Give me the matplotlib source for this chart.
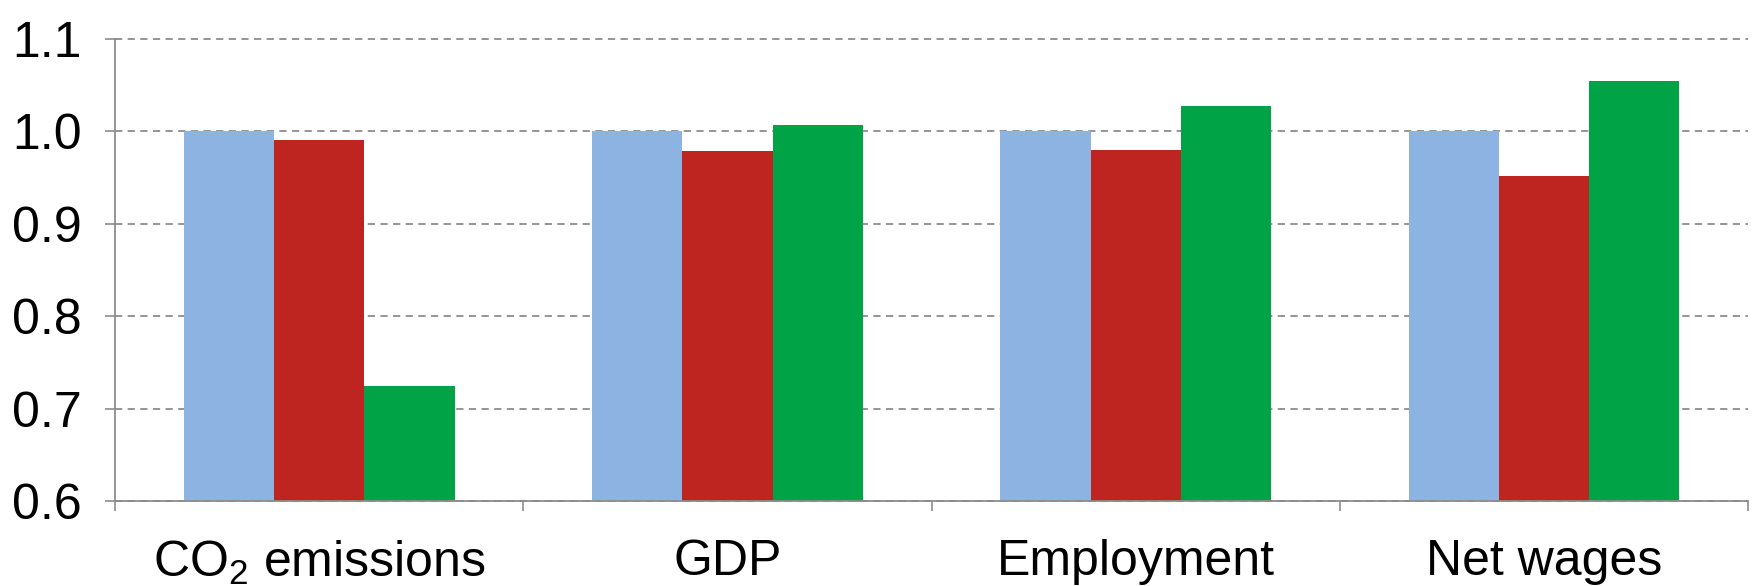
import matplotlib.pyplot as plt
import numpy as np

plt.rcParams['font.family'] = ['Liberation Sans', 'DejaVu Sans']
plt.rcParams['mathtext.default'] = 'regular'

# data
categories = [r'CO$_2$ emissions', 'GDP', 'Employment', 'Net wages']
baseline = [1.000, 1.000, 1.000, 1.000]
scenario_a = [0.991, 0.979, 0.980, 0.952]
scenario_b = [0.725, 1.007, 1.028, 1.055]

colors = ['#8DB3E2', '#BE2520', '#00A346']

fig = plt.figure(figsize=(17.54, 5.86), dpi=100)
ax = fig.add_axes([0.0656, 0.145, 0.931, 0.7884])

x = np.arange(len(categories))
width = 0.221
ax.bar(x - width, baseline, width, color=colors[0], zorder=2)
ax.bar(x, scenario_a, width, color=colors[1], zorder=2)
ax.bar(x + width, scenario_b, width, color=colors[2], zorder=2)

ax.set_ylim(0.6, 1.1)
ax.set_xlim(-0.5, len(categories) - 0.5)
ax.set_yticks([0.6, 0.7, 0.8, 0.9, 1.0, 1.1])
ax.set_yticklabels(['0.6', '0.7', '0.8', '0.9', '1.0', '1.1'])

# gridlines (top one sits on the axes edge, so don't clip it)
ax.yaxis.grid(True, linestyle=(0, (4, 3)), color='#8C8C8C', linewidth=1.3, zorder=1)
ax.set_axisbelow(True)
for gl in ax.get_ygridlines():
    gl.set_clip_on(False)

# boundaries carry the tick marks, centres carry the labels
ax.set_xticks(np.arange(len(categories) + 1) - 0.5)
ax.set_xticklabels([])
ax.set_xticks(x, minor=True)
ax.set_xticklabels(categories, minor=True)
ax.tick_params(axis='x', which='major', length=7, color='#8C8C8C', width=1.2)
ax.tick_params(axis='x', which='minor', length=0, labelsize=36, pad=27)
ax.tick_params(axis='y', length=7, color='#8C8C8C', width=1.2, labelsize=36, pad=17)

for s in ['top', 'right']:
    ax.spines[s].set_visible(False)
for s in ['left', 'bottom']:
    ax.spines[s].set_color('#8C8C8C')
    ax.spines[s].set_linewidth(1.3)

fig.savefig('out.png', dpi=100, facecolor='white')
